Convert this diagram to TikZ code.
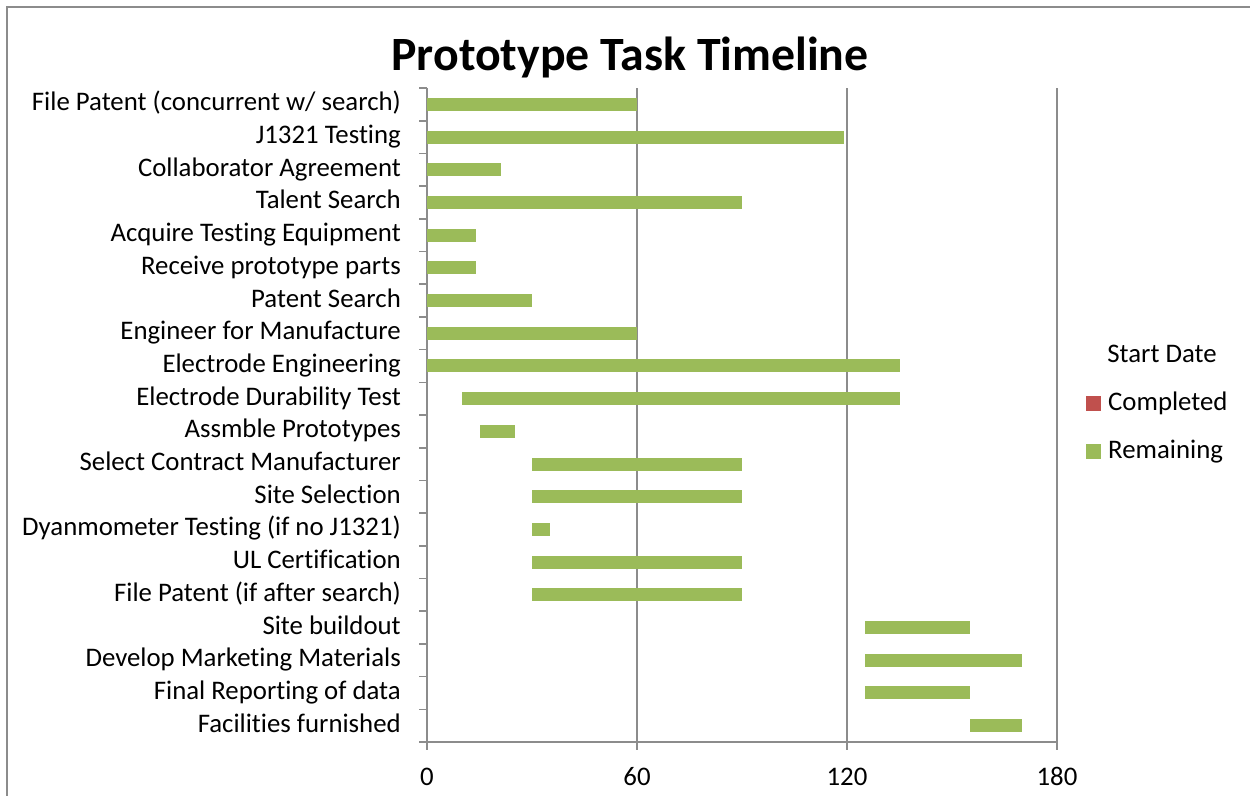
\documentclass[tikz,border=0pt]{standalone}
\usepackage{fontspec}
\setmainfont[RawFeature={-liga}]{Carlito}
\definecolor{bargreen}{HTML}{9BBB59}
\definecolor{barred}{HTML}{C0504D}
\definecolor{axisgrey}{HTML}{8C8C8C}
\begin{document}
\begin{tikzpicture}[x=1pt,y=-1pt,
  lbl/.style={font=\fontsize{26.8}{30}\selectfont, inner sep=0pt, anchor=base east},
  ticklbl/.style={font=\fontsize{26.8}{30}\selectfont, inner sep=0pt},
  gridline/.style={axisgrey, line width=1.6pt},
  axisline/.style={axisgrey, line width=1.6pt},
  bar/.style={fill=bargreen, draw=none},
  legendbox/.style={minimum size=15pt, inner sep=0pt, draw=none}]
\useasboundingbox (0,0) rectangle (1250,795);
% chart frame
\draw[axisgrey, line width=1.4pt] (7,7) rectangle (1270,820);
% title
\node[font=\bfseries\fontsize{47.8}{54}\selectfont, inner sep=0pt] (title) at (630,57) {Prototype Task Timeline};
% vertical gridlines
\foreach \d in {60,120,180} {
  \draw[gridline] ({427+3.5*\d},88) -- ({427+3.5*\d},742);
}
% category ticks on the vertical axis
\foreach \k in {0,...,20} {
  \draw[axisline] (419,{88+32.7*\k}) -- (427,{88+32.7*\k});
}
% axes
\draw[axisline] (427,88) -- (427,750);
\draw[axisline] (419,742) -- (1057,742);
\foreach \d in {0,60,120,180} {
  \draw[axisline] ({427+3.5*\d},742) -- ({427+3.5*\d},750);
  \node[ticklbl, anchor=base] (x\d) at ({427+3.5*\d},785) {\d};
}
% task bars and labels
\foreach \s/\e/\t [count=\i] in {
  0/60/{File Patent (concurrent w/ search)},
  0/119/{J1321 Testing},
  0/21/{Collaborator Agreement},
  0/90/{Talent Search},
  0/14/{Acquire Testing Equipment},
  0/14/{Receive prototype parts},
  0/30/{Patent Search},
  0/60/{Engineer for Manufacture},
  0/135/{Electrode Engineering},
  10/135/{Electrode Durability Test},
  15/25/{Assmble Prototypes},
  30/90/{Select Contract Manufacturer},
  30/90/{Site Selection},
  30/35/{Dyanmometer Testing (if no J1321)},
  30/90/{UL Certification},
  30/90/{File Patent (if after search)},
  125/155/{Site buildout},
  125/170/{Develop Marketing Materials},
  125/155/{Final Reporting of data},
  155/170/{Facilities furnished}} {
  \pgfmathsetmacro{\yc}{88+32.7*(\i-0.5)}
  \pgfmathsetmacro{\xs}{427+3.5*\s}
  \pgfmathsetmacro{\xe}{427+3.5*\e}
  \fill[bar] (\xs,\yc-6.5) rectangle (\xe,\yc+6.5);
  \node[lbl] (task\i) at (401,\yc+6.5) {\t};
}
% legend
\node[ticklbl] (legtitle) at (1162,354) {Start Date};
\node[legendbox, fill=barred] (legred) at (1093.5,403.5) {};
\node[ticklbl, anchor=west] (legcompleted) at (1108,403.5) {Completed};
\node[legendbox, fill=bargreen] (leggreen) at (1093.5,451.5) {};
\node[ticklbl, anchor=west] (legremaining) at (1108,451.5) {Remaining};
\end{tikzpicture}
\end{document}
